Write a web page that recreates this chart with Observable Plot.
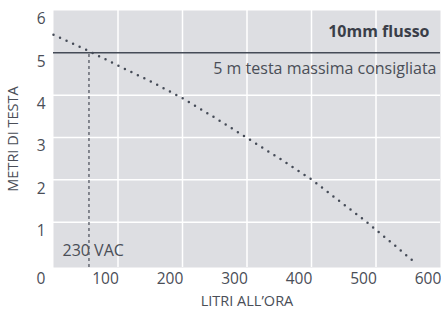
<!DOCTYPE html>
<html>
<head>
<meta charset="utf-8">
<script src="https://cdn.jsdelivr.net/npm/d3@7"></script>
<script src="https://cdn.jsdelivr.net/npm/@observablehq/plot@0.6"></script>
<style>
  html, body { margin: 0; padding: 0; background: #fff; }
  svg { display: block; }
</style>
</head>
<body>
<div id="chart"></div>
<script>
// Data
const flow = [0, 55, 100, 150, 200, 250, 300, 350, 400, 450, 480, 500, 530, 560];
const head = [5.43, 5.04, 4.70, 4.33, 3.93, 3.47, 2.99, 2.51, 2.01, 1.42, 1.07, 0.82, 0.44, 0.05];
const xTicks = [0, 100, 200, 300, 400, 500, 600];
const yTicks = [1, 2, 3, 4, 5, 6];
const gridXValues = [100, 200, 300, 400, 500];
const gridYValues = [1, 2, 3, 4];
const maxHead = 5;          // recommended maximum head
const voltageFlow = 55;     // flow where the curve meets the max-head line
const title = "10mm flusso";
const maxHeadLabel = "5 m testa massima consigliata";
const voltageLabel = "230 VAC";
const xLabel = "LITRI ALL\u2019ORA";
const yLabel = "METRI DI TESTA";

const curve = flow.map((f, i) => ({flow: f, head: head[i]}));
const yMin = -0.07;
const textColor = "#4a4e57";
const lineColor = "#454b57";

const chart = Plot.plot({
  width: 441,
  height: 309,
  marginLeft: 53,
  marginRight: 1,
  marginTop: 10,
  marginBottom: 42,
  style: {fontFamily: "'Open Sans', sans-serif", fontSize: "15px", color: textColor, background: "#fff"},
  x: {domain: [0, 600], ticks: xTicks},
  y: {domain: [yMin, 6], ticks: yTicks},
  marks: [
    Plot.frame({fill: "#dddee2", stroke: null}),
    Plot.ruleX(gridXValues, {stroke: "#fff", strokeWidth: 1.5}),
    Plot.ruleY(gridYValues, {stroke: "#fff", strokeWidth: 1.5}),
    Plot.ruleY([maxHead], {stroke: lineColor, strokeWidth: 1.5}),
    Plot.ruleX([voltageFlow], {y1: yMin, y2: maxHead, stroke: "#3a3f4a", strokeWidth: 1.1, strokeDasharray: "3,3"}),
    Plot.line(curve, {x: "flow", y: "head", stroke: lineColor, strokeWidth: 2.5, strokeLinecap: "round", strokeDasharray: "0,7.2"}),
    Plot.axisX({ticks: xTicks, tickSize: 0, tickPadding: 5, dx: -12.5, label: null, fill: textColor, fontSize: 15.5, tickFormat: d => String(d)}),
    Plot.axisY({ticks: yTicks, tickSize: 0, tickPadding: 8, dy: 9, label: null, fill: textColor, fontSize: 15.5, tickFormat: d => String(d)}),
    Plot.text([title], {frameAnchor: "top-right", dx: -11, dy: 15, textAnchor: "end", fontWeight: "bold", fontSize: 16, fill: "#3a3e48"}),
    Plot.text([maxHeadLabel], {frameAnchor: "right", y: () => maxHead, dx: -4, dy: 16, textAnchor: "end", fontSize: 16, fill: textColor}),
    Plot.text([voltageLabel], {frameAnchor: "bottom-left", dx: 9, dy: -12, textAnchor: "start", fontSize: 16, fill: textColor}),
    Plot.text([xLabel], {frameAnchor: "bottom", dy: 38, textAnchor: "middle", fontSize: 14.5, fill: textColor}),
    Plot.text([yLabel], {frameAnchor: "left", dx: -40.5, rotate: -90, textAnchor: "middle", fontSize: 14.5, fill: textColor})
  ]
});
document.getElementById("chart").appendChild(chart);
</script>
</body>
</html>
